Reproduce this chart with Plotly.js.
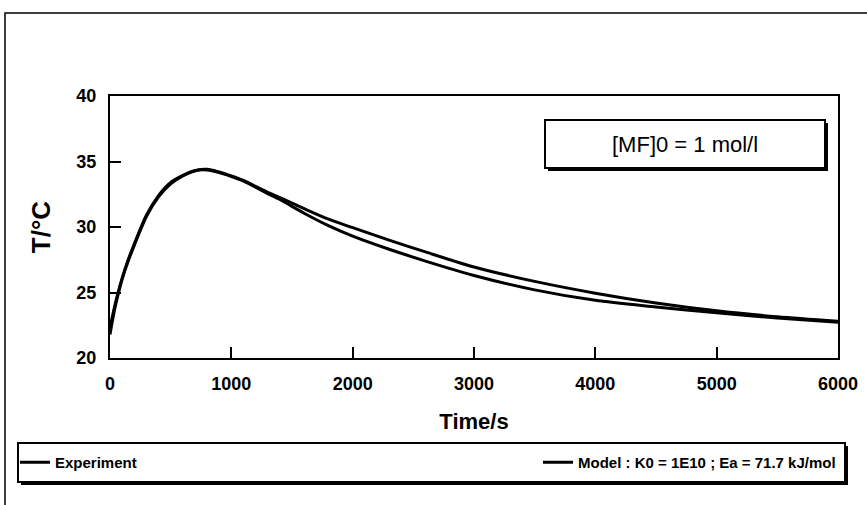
<!DOCTYPE html>
<html>
<head>
<meta charset="utf-8">
<script src="https://cdn.plot.ly/plotly-3.0.1.min.js"></script>
<style>html,body{margin:0;padding:0;background:#fff;}#chart{width:867px;height:505px;}</style>
</head>
<body>
<div id="chart"></div>
<script>
// ---- data ----
const timeS = [0, 25, 50, 100, 150, 200, 300, 400, 500, 600, 700, 800, 900, 1000, 1100, 1200, 1300, 1400, 1600, 1800, 2000, 2300, 2600, 3000, 3500, 4000, 4500, 5000, 5500, 6000];
const experimentT = [21.8, 23.1, 24.2, 26.0, 27.4, 28.6, 30.8, 32.3, 33.3, 33.9, 34.3, 34.35, 34.15, 33.85, 33.5, 33.05, 32.55, 32.1, 31.05, 30.1, 29.3, 28.3, 27.4, 26.3, 25.2, 24.4, 23.9, 23.45, 23.05, 22.72];
const modelT = [22.3, 23.4, 24.4, 26.1, 27.5, 28.7, 30.9, 32.4, 33.4, 33.95, 34.3, 34.4, 34.2, 33.9, 33.55, 33.1, 32.65, 32.25, 31.4, 30.6, 29.95, 29.0, 28.1, 26.95, 25.85, 24.95, 24.2, 23.6, 23.15, 22.8];
const seriesNames = ['Experiment', 'Model : K0 = 1E10 ; Ea = 71.7 kJ/mol'];
const xTicks = [0, 1000, 2000, 3000, 4000, 5000, 6000];
const yTicks = [20, 25, 30, 35, 40];
const xTitle = 'Time/s';
const yTitle = 'T/°C';
const boxText = '[MF]0 = 1 mol/l';

// ---- layout helpers ----
const W = 867, H = 505;
const M = {l: 110, r: 29, t: 96, b: 147};
const PW = W - M.l - M.r, PH = H - M.t - M.b;
const px = v => (v - M.l) / PW;
const py = v => (H - M.b - v) / PH;
const FONT = 'Liberation Sans, Arial, Helvetica, sans-serif';

const lineStyle = {color: '#000', width: 3, shape: 'spline', smoothing: 0.8};
const traces = [
  {x: timeS, y: experimentT, name: seriesNames[0], mode: 'lines', line: lineStyle, legendwidth: 478},
  {x: timeS, y: modelT, name: seriesNames[1], mode: 'lines', line: lineStyle}
];

function rect(x0, y0, x1, y1, fill, lw) {
  return {type: 'rect', xref: 'paper', yref: 'paper', layer: 'above',
    x0: px(x0), x1: px(x1), y0: py(y1), y1: py(y0),
    fillcolor: fill, line: {color: '#000', width: lw}};
}

const shapes = [
  // outer frame (left and top edges)
  {type: 'path', xref: 'paper', yref: 'paper', layer: 'above',
   path: `M ${px(5)} ${py(505)} L ${px(5)} ${py(13)} L ${px(867)} ${py(13)}`,
   line: {color: '#000', width: 1.5}},
  // annotation box with shadow
  rect(548, 123, 828, 171, '#000', 0),
  rect(545, 120, 825, 168, '#fff', 2),
  // legend box with shadow
  rect(21, 446, 848, 485, '#000', 0),
  rect(18, 443, 845, 482, '#fff', 2)
];

const axisCommon = {
  showline: true, mirror: true, linecolor: '#000', linewidth: 2,
  ticks: 'inside', ticklen: 11, tickwidth: 2, tickcolor: '#000',
  showgrid: false, zeroline: false,
  tickfont: {family: FONT, size: 18, color: '#000', weight: 'bold'},
  ticklabelstandoff: 8
};

const layout = {
  width: W, height: H,
  margin: {l: M.l, r: M.r, t: M.t, b: M.b, autoexpand: false},
  paper_bgcolor: '#fff', plot_bgcolor: '#fff',
  showlegend: true,
  xaxis: Object.assign({}, axisCommon, {
    range: [0, 6000], tickvals: xTicks, ticktext: xTicks.map(String),
    title: {text: xTitle, font: {family: FONT, size: 22, color: '#000', weight: 'bold'}, standoff: 21}
  }),
  yaxis: Object.assign({}, axisCommon, {
    range: [20, 40], tickvals: yTicks, ticktext: yTicks.map(String),
    title: {text: yTitle, font: {family: FONT, size: 26, color: '#000', weight: 'bold'}, standoff: 18}
  }),
  legend: {
    orientation: 'h', x: px(15), xanchor: 'left', y: py(446), yanchor: 'top',
    bgcolor: 'rgba(0,0,0,0)', borderwidth: 0, itemwidth: 30,
    font: {family: FONT, size: 15, color: '#000', weight: 'bold'},
    traceorder: 'normal'
  },
  shapes: shapes,
  annotations: [{
    xref: 'paper', yref: 'paper', x: px(685), y: py(144),
    text: boxText, showarrow: false, xanchor: 'center', yanchor: 'middle',
    font: {family: FONT, size: 22, color: '#000'}
  }]
};

Plotly.newPlot('chart', traces, layout, {displayModeBar: false, staticPlot: true});
</script>
</body>
</html>
